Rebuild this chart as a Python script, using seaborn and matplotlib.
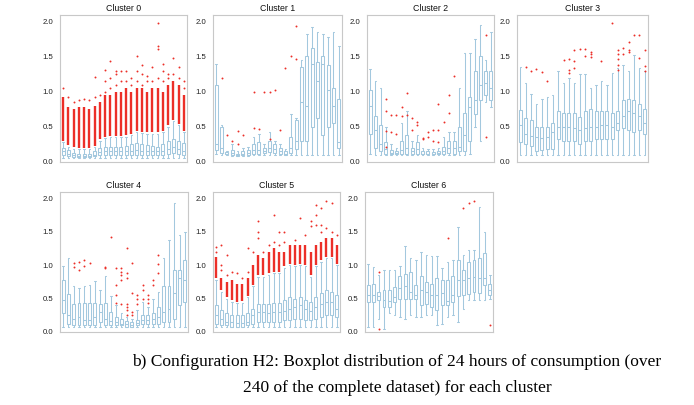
import matplotlib
matplotlib.use("Agg")
import matplotlib.pyplot as plt
import numpy as np
import pandas as pd
import seaborn as sns

HOURS = list(range(24))
TITLES = ["Cluster 0", "Cluster 1", "Cluster 2", "Cluster 3", "Cluster 4", "Cluster 5", "Cluster 6"]
CAPTION_1 = "b) Configuration H2: Boxplot distribution of 24 hours of consumption (over"
CAPTION_2 = "240 of the complete dataset) for each cluster"
Y_TICKS = [0.0, 0.5, 1.0, 1.5, 2.0]

# ---------------- Cluster 0 ----------------
C0_LO = [.05, .05, .05, .05, .05, .05, .05, .05, .05, .05, .05, .05, .05, .05, .05, .05, .05, .05, .05, .05, .06, .06, .06, .05]
C0_Q1 = [.10, .08, .07, .07, .07, .07, .08, .10, .10, .10, .10, .10, .10, .10, .10, .10, .10, .10, .10, .10, .12, .13, .12, .10]
C0_MED = [.15, .12, .10, .09, .09, .09, .10, .14, .15, .15, .15, .15, .15, .16, .17, .16, .16, .15, .15, .16, .19, .21, .19, .16]
C0_Q3 = [.20, .17, .13, .12, .12, .12, .15, .20, .22, .22, .22, .22, .23, .25, .27, .25, .24, .23, .22, .25, .30, .33, .30, .27]
C0_HI = [.28, .22, .19, .18, .18, .18, .21, .30, .34, .35, .35, .35, .36, .38, .42, .41, .40, .40, .40, .42, .50, .58, .52, .42]
C0_BAND_HI = [.93, .78, .75, .78, .78, .75, .80, .85, .95, .95, 1.0, 1.0, 1.05, 1.0, 1.05, 1.05, 1.0, 1.05, 1.05, 1.0, 1.1, 1.15, 1.1, .95]
C0_OUT_H = [0, 1, 2, 3, 4, 5, 6, 6, 7, 8, 8, 8, 9, 9, 9, 10, 10, 10, 11, 11, 12, 12, 13, 13,
            14, 14, 14, 15, 15, 15, 16, 16, 17, 17, 18, 18, 18, 18, 19, 19, 19, 20, 20, 21, 21, 22, 22, 23, 23]
C0_OUT_V = [1.05, .92, .85, .88, .90, .88, .92, 1.21, .95, 1.0, 1.15, 1.31, 1.05, 1.2, 1.44, 1.1, 1.25, 1.3, 1.15, 1.3, 1.15, 1.3, 1.1, 1.2,
            1.15, 1.3, 1.5, 1.1, 1.25, 1.38, 1.15, 1.22, 1.15, 1.35, 1.2, 1.6, 1.65, 1.98, 1.15, 1.3, 1.4, 1.2, 1.25, 1.25, 1.48, 1.2, 1.35, 1.05, 1.15]

# ---------------- Cluster 1 ----------------
C1_LO = [.12, .10, .10, .09, .08, .09, .09, .10, .10, .10, .10, .10, .10, .10, .10, .10, .10, .10, .10, .10, .10, .10, .10, .10]
C1_Q1 = [.17, .13, .11, .10, .09, .10, .10, .12, .12, .13, .14, .13, .12, .10, .13, .18, .30, .30, .50, .62, .38, .50, .55, .20]
C1_MED = [.26, .20, .12, .13, .10, .12, .13, .17, .17, .16, .20, .18, .15, .12, .20, .30, .85, .80, 1.40, 1.15, 1.40, 1.02, .80, .28]
C1_Q3 = [1.10, .50, .14, .17, .12, .15, .17, .25, .28, .20, .30, .25, .20, .15, .35, .60, 1.35, 1.50, 1.62, 1.42, 1.50, 1.38, 1.05, .90]
C1_HI = [1.40, .52, .16, .25, .15, .20, .22, .35, .40, .25, .42, .30, .25, .18, .68, .62, 1.45, 1.82, 1.92, 1.85, 1.82, 1.78, 1.85, 1.65]
C1_OUT_H = [1, 2, 3, 4, 4, 5, 7, 7, 8, 9, 10, 10, 11, 12, 13, 14, 15, 15]
C1_OUT_V = [1.2, .38, .30, .44, .25, .38, 1.0, .48, .47, 1.0, 1.0, .32, 1.02, .45, 1.33, 1.5, 1.93, 1.47]

# ---------------- Cluster 2 ----------------
C2_LO = [.12, .10, .10, .10, .10, .10, .10, .10, .10, .10, .10, .10, .10, .10, .10, .10, .10, .10, .10, .12, .50, .30, .85, .78]
C2_Q1 = [.40, .20, .15, .12, .11, .11, .12, .12, .12, .12, .11, .11, .11, .11, .12, .13, .12, .15, .15, .30, .68, .88, .95, .88]
C2_MED = [.80, .45, .25, .18, .13, .13, .17, .20, .15, .18, .12, .12, .12, .13, .16, .20, .20, .22, .38, .78, .88, 1.10, 1.12, 1.05]
C2_Q3 = [1.02, .65, .52, .28, .17, .16, .30, .38, .20, .28, .15, .15, .14, .15, .22, .30, .30, .50, .70, .92, 1.30, 1.50, 1.30, 1.30]
C2_HI = [1.32, 1.15, 1.05, .50, .25, .20, .55, .72, .30, .38, .20, .18, .18, .20, .35, .43, .43, 1.05, 1.55, 1.55, 1.75, 1.95, 1.45, 1.85]
C2_OUT_H = [3, 3, 3, 3, 4, 4, 5, 5, 6, 6, 7, 7, 8, 8, 9, 9, 10, 10, 11, 11, 12, 12, 13, 13, 13, 14, 15, 15, 16, 22, 22]
C2_OUT_V = [.90, .72, .44, .22, .67, .43, .67, .40, .78, .65, .98, .67, .62, .45, .57, .53, .34, .33, .42, .35, .45, .30, .82, .45, .28, .57, .95, .70, 1.22, 1.80, .35]

# ---------------- Cluster 3 ----------------
C3_LO = [.10] * 24
C3_Q1 = [.28, .25, .23, .16, .17, .18, .18, .32, .30, .30, .30, .25, .30, .30, .32, .32, .33, .33, .45, .48, .45, .42, .45, .40]
C3_MED = [.53, .40, .37, .35, .34, .35, .42, .50, .50, .50, .48, .45, .48, .50, .50, .52, .52, .50, .55, .65, .72, .70, .65, .55]
C3_Q3 = [.74, .62, .60, .50, .50, .50, .55, .72, .70, .70, .70, .64, .72, .75, .72, .73, .73, .70, .72, .88, .90, .88, .83, .75]
C3_HI = [1.35, 1.12, .97, .83, .90, .92, .95, 1.30, 1.12, 1.20, 1.12, 1.25, 1.25, 1.05, 1.10, 1.15, 1.10, 1.27, 1.33, 1.38, 1.30, 1.52, 1.33, 1.30]
C3_OUT_H = [1, 2, 3, 4, 5, 8, 9, 9, 9, 10, 10, 10, 11, 12, 12, 13, 13, 13, 15, 17,
            18, 18, 18, 18, 18, 19, 19, 20, 20, 20, 21, 22, 22, 23, 23, 23]
C3_OUT_V = [1.35, 1.30, 1.32, 1.28, 1.15, 1.45, 1.46, 1.31, 1.27, 1.59, 1.43, 1.33, 1.61, 1.60, 1.50, 1.57, 1.54, 1.49, 1.43, 1.98,
            1.59, 1.54, 1.46, 1.38, 1.31, 1.62, 1.54, 1.70, 1.59, 1.56, 1.80, 1.81, 1.48, 1.59, 1.37, 1.29]

# ---------------- Cluster 4 ----------------
C4_LO = [.08, .08, .08, .08, .08, .08, .08, .08, .08, .08, .08, .08, .08, .07, .08, .08, .08, .08, .08, .08, .08, .08, .08, .08]
C4_Q1 = [.28, .12, .10, .10, .10, .10, .10, .15, .10, .10, .10, .10, .08, .08, .10, .12, .12, .12, .12, .15, .15, .20, .40, .45]
C4_MED = [.48, .25, .20, .22, .18, .18, .22, .30, .20, .17, .15, .12, .12, .10, .13, .18, .18, .20, .22, .30, .35, .58, .80, .78]
C4_Q3 = [.78, .56, .42, .44, .44, .44, .44, .42, .44, .30, .22, .20, .17, .15, .18, .25, .25, .28, .38, .68, .68, .92, .92, 1.08]
C4_HI = [.98, 1.10, .68, .65, .68, .70, .76, .63, .83, .53, .40, .28, .22, .20, .33, .45, .38, .50, .60, 1.10, 1.38, 1.92, 1.45, 1.50]
C4_OUT_H = [2, 2, 3, 3, 4, 4, 5, 8, 8, 9, 10, 10, 10, 10, 11, 11, 11, 11, 11, 12, 12, 12, 12, 12, 12, 12,
            13, 13, 13, 13, 14, 14, 14, 15, 15, 15, 16, 16, 16, 17, 17, 18, 18, 18]
C4_OUT_V = [1.03, .97, 1.05, .93, 1.07, .98, 1.03, .95, .97, 1.42, .95, .70, .55, .43, .95, .90, .85, .78, .42, 1.25, .88, .80, .42, .38, .33, .25,
            1.03, .58, .30, .25, .55, .50, .42, .70, .62, .50, .55, .50, .43, .78, .70, 1.15, 1.02, .88]

# ---------------- Cluster 5 ----------------
C5_LO = [.08] * 24
C5_Q1 = [.12, .10, .10, .08, .08, .08, .10, .12, .15, .15, .15, .15, .15, .18, .18, .20, .20, .18, .18, .20, .22, .25, .25, .22]
C5_MED = [.25, .20, .15, .15, .13, .13, .15, .25, .30, .30, .28, .30, .30, .32, .35, .38, .40, .35, .32, .38, .42, .45, .45, .35]
C5_Q3 = [.40, .33, .28, .25, .25, .25, .28, .35, .42, .42, .42, .43, .43, .48, .52, .50, .52, .48, .45, .52, .58, .62, .60, .55]
C5_HI = [.78, .60, .50, .45, .43, .43, .52, .68, .82, .82, .85, .88, .88, .95, 1.0, .98, 1.0, .98, .82, .98, 1.05, 1.10, 1.10, 1.0]
C5_BAND_LO = [.80, .62, .52, .48, .45, .46, .54, .70, .85, .85, .88, .90, .90, .98, 1.02, 1.0, 1.02, 1.0, .85, 1.0, 1.07, 1.12, 1.12, 1.02]
C5_BAND_HI = [1.12, .80, .75, .78, .72, .72, .80, 1.0, 1.15, 1.10, 1.20, 1.25, 1.20, 1.20, 1.30, 1.30, 1.30, 1.30, 1.20, 1.30, 1.35, 1.40, 1.40, 1.30]
C5_OUT_H = [0, 0, 1, 1, 1, 2, 2, 3, 4, 5, 6, 6, 7, 8, 8, 8, 9, 10, 11, 11, 12, 12, 13, 13, 15, 16, 17, 18, 18,
            19, 19, 19, 20, 20, 20, 21, 21, 22, 22, 23]
C5_OUT_V = [1.20, 1.27, 1.30, 1.0, .92, 1.15, .85, .90, .88, .80, .90, 1.25, 1.20, 1.40, 1.50, 1.65, 1.20, 1.30, 1.75, 1.35, 1.50, 1.30, 1.50, 1.35, 1.38, 1.70, 1.45, 1.65, 1.58,
            1.90, 1.75, 1.60, 1.85, 1.60, 1.50, 1.95, 1.55, 1.93, 1.50, 1.45]

# ---------------- Cluster 6 ----------------
C6_LO = [.08, .08, .20, .05, .28, .25, .22, .20, .25, .22, .22, .25, .25, .10, .12, .22, .25, .15, .35, .48, .48, .48, .48, .50]
C6_Q1 = [.45, .45, .48, .38, .38, .45, .50, .50, .50, .50, .40, .42, .38, .33, .40, .40, .45, .53, .55, .57, .60, .58, .70, .55]
C6_MED = [.55, .55, .53, .48, .47, .52, .65, .68, .60, .55, .62, .60, .55, .55, .58, .46, .55, .78, .78, .80, .82, .80, .80, .62]
C6_Q3 = [.70, .72, .60, .63, .62, .67, .83, .87, .90, .70, .83, .75, .72, .80, .78, .77, .83, 1.07, .93, 1.05, 1.07, 1.10, 1.18, .72]
C6_HI = [1.02, .97, .85, .92, .92, .93, .98, 1.28, 1.10, 1.08, 1.20, 1.15, 1.13, 1.13, .95, 1.05, 1.08, 1.57, 1.15, 1.22, 1.22, 1.87, 1.50, .85]
C6_OUT_H = [2, 2, 15, 18, 19, 20, 23]
C6_OUT_V = [.90, .05, 1.40, 1.85, 1.92, 1.95, .10]

CLUSTERS = [
    (C0_LO, C0_Q1, C0_MED, C0_Q3, C0_HI, C0_OUT_H, C0_OUT_V, [h + .02 for h in C0_HI], C0_BAND_HI),
    (C1_LO, C1_Q1, C1_MED, C1_Q3, C1_HI, C1_OUT_H, C1_OUT_V, None, None),
    (C2_LO, C2_Q1, C2_MED, C2_Q3, C2_HI, C2_OUT_H, C2_OUT_V, None, None),
    (C3_LO, C3_Q1, C3_MED, C3_Q3, C3_HI, C3_OUT_H, C3_OUT_V, None, None),
    (C4_LO, C4_Q1, C4_MED, C4_Q3, C4_HI, C4_OUT_H, C4_OUT_V, None, None),
    (C5_LO, C5_Q1, C5_MED, C5_Q3, C5_HI, C5_OUT_H, C5_OUT_V, C5_BAND_LO, C5_BAND_HI),
    (C6_LO, C6_Q1, C6_MED, C6_Q3, C6_HI, C6_OUT_H, C6_OUT_V, None, None),
]

sns.set_theme(style="white")
plt.rcParams["font.family"] = ["Liberation Sans", "DejaVu Sans"]

BOX_COLOR = "#a3c8de"
RED = "#ec2f28"
W, H = 694, 405
RECTS = [(60, 15, 127, 147), (213, 15, 129, 147), (367, 15, 127, 147), (517, 15, 131, 147),
         (60, 192, 128, 140), (213, 192, 127, 140), (365, 192, 128, 140)]

fig = plt.figure(figsize=(W / 100, H / 100), dpi=100)

for i, (lo, q1, med, q3, hi, oh, ov, blo, bhi) in enumerate(CLUSTERS):
    l, t, w, h = RECTS[i]
    ax = fig.add_axes([l / W, 1 - (t + h) / H, w / W, h / H])
    box_df = pd.DataFrame({
        "hour": HOURS * 5,
        "value": list(lo) + list(q1) + list(med) + list(q3) + list(hi),
    })
    sns.boxplot(data=box_df, x="hour", y="value", order=HOURS, whis=(0, 100),
                showfliers=False, color="white", linecolor=BOX_COLOR, linewidth=0.75,
                width=0.55, ax=ax)
    if blo is not None:
        ax.vlines(HOURS, blo, bhi, color=RED, linewidth=1.7, zorder=3)
    out_df = pd.DataFrame({"hour": oh, "value": ov})
    sns.stripplot(data=out_df, x="hour", y="value", order=HOURS, jitter=False,
                  color=RED, size=1.4, linewidth=0, ax=ax, zorder=4)
    ax.set_xlim(-0.6, 23.6)
    ax.set_ylim(0, 2.09)
    ax.set_yticks(Y_TICKS)
    ax.set_yticklabels([f"{v:.1f}" for v in Y_TICKS])
    ax.set_xticks([])
    ax.set_xlabel("")
    ax.set_ylabel("")
    ax.tick_params(axis="y", labelsize=5.6, length=0, pad=5, colors="#222222")
    for s in ax.spines.values():
        s.set_color("#c8c8c8")
        s.set_linewidth(0.8)
    ax.set_title(TITLES[i], fontsize=6.3, pad=3, color="#111111")

fig.text(397 / W, 1 - 362 / H, CAPTION_1, ha="center", va="center",
         fontsize=12.5, family=["Liberation Serif", "DejaVu Serif"], color="black")
fig.text(397 / W, 1 - 388 / H, CAPTION_2, ha="center", va="center",
         fontsize=12.5, family=["Liberation Serif", "DejaVu Serif"], color="black")

fig.savefig("out.png", dpi=100)
